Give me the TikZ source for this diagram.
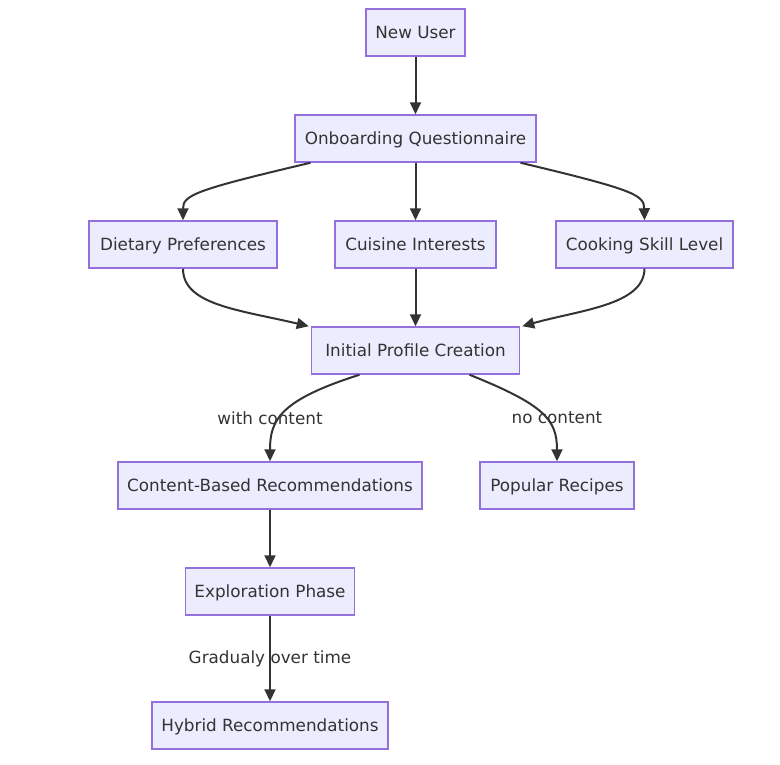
\documentclass[tikz,border=0pt]{standalone}
\usepackage{fontspec}
\setmainfont{DejaVu Sans}
\usetikzlibrary{arrows.meta}
\definecolor{boxfill}{HTML}{ECECFF}
\definecolor{boxline}{HTML}{9370DB}
\definecolor{ink}{HTML}{333333}
\begin{document}
\begin{tikzpicture}[x=1pt,y=-1pt,>={Triangle[length=12pt,width=11pt]},
    font=\fontsize{16.8}{20}\selectfont,
    box/.style={draw=boxline,fill=boxfill,line width=1.5pt,text=ink,minimum height=47pt,
        inner xsep=0pt,text height=14pt,text depth=2pt},
    edge/.style={->,draw=ink,line width=2pt},
    lbl/.style={text=ink}]
            \useasboundingbox (0,0) rectangle (780,764);
            \node[box,minimum width=99pt] (nu) at (415.5,32.5) {New User};
            \node[box,minimum width=241pt] (oq) at (415.5,138.5) {Onboarding Questionnaire};
            \node[box,minimum width=188pt] (dp) at (183,244.5) {Dietary Preferences};
            \node[box,minimum width=161pt] (ci) at (415.5,244.5) {Cuisine Interests};
            \node[box,minimum width=177pt] (cs) at (644.5,244.5) {Cooking Skill Level};
            \node[box,minimum width=208pt] (ipc) at (415.5,350.5) {Initial Profile Creation};
            \node[box,minimum width=304pt] (cbr) at (270,485.5) {Content-Based Recommendations};
            \node[box,minimum width=154pt] (pr) at (557,485.5) {Popular Recipes};
            \node[box,minimum width=169pt] (ep) at (270,591.5) {Exploration Phase};
            \node[box,minimum width=236pt] (hr) at (270,725.5) {Hybrid Recommendations};
            %\draw[color=gray!50,dashed] (0,0) grid[step=50] (780,764);
            \draw[edge] (nu.south)--(oq.north);
            \draw[edge] ([xshift=-105pt]oq.south) .. controls (195,190) and (183,195) .. (dp.north);
            \draw[edge] (oq.south)--(ci.north);
            \draw[edge] ([xshift=105pt]oq.south) .. controls (635,190) and (644,195) .. (cs.north);
            \draw[edge] (dp.south) .. controls (183,305) and (240,310) .. ([xshift=-2pt]ipc.north west);
            \draw[edge] (ci.south)--(ipc.north);
            \draw[edge] (cs.south) .. controls (644,305) and (580,310) .. ([xshift=2pt]ipc.north east);
            \draw[edge] ([xshift=-56pt]ipc.south) .. controls (280,400) and (270,420) .. (cbr.north);
            \draw[edge] ([xshift=54pt]ipc.south) .. controls (545,405) and (557,420) .. (pr.north);
            \draw[edge] (cbr.south)--(ep.north);
            \draw[edge] (ep.south)--(hr.north);
            \node[lbl] (lwc) at (270,418) {with content};
            \node[lbl] (lnc) at (557,418) {no content};
            \node[lbl] (lgt) at (270,659) {Gradualy over time};
        \end{tikzpicture}
\end{document}
